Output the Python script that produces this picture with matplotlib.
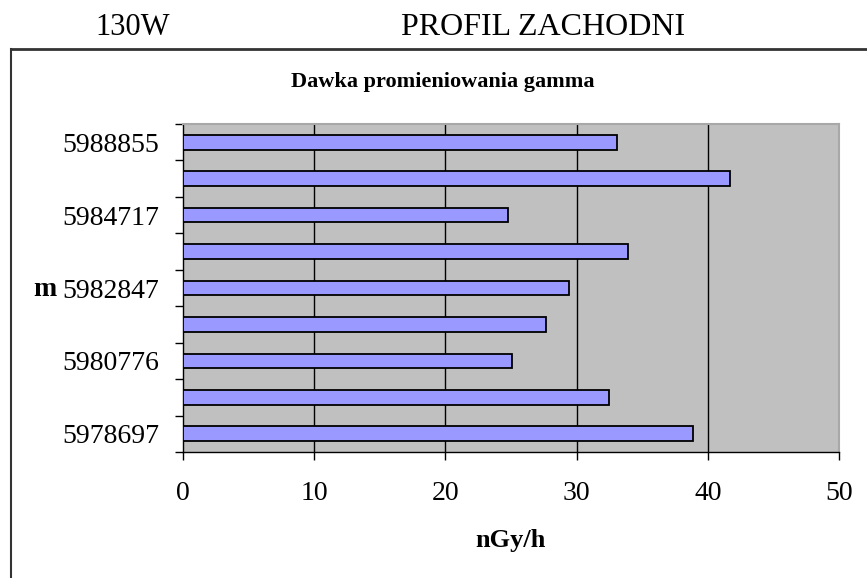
import numpy as np
import matplotlib
matplotlib.use('Agg')
import matplotlib.pyplot as plt
from matplotlib.lines import Line2D

plt.rcParams['font.family'] = ['Liberation Serif', 'DejaVu Serif']

# bottom to top; only every second position carries a label in the original
positions = ['5978697', '', '5980776', '', '5982847', '', '5984717', '', '5988855']
dose = [38.9, 32.5, 25.1, 27.7, 29.4, 33.9, 24.8, 41.7, 33.05]
xticks = [0, 10, 20, 30, 40, 50]

W, H = 867, 578
fig = plt.figure(figsize=(W / 100, H / 100), dpi=100)
ax = fig.add_axes([183 / W, 1 - 452 / H, (839 - 183) / W, (452 - 124) / H])

y = np.arange(len(dose))
ax.set_facecolor('#C0C0C0')
ax.barh(y, dose, height=0.4, color='#9999FF', edgecolor='black', linewidth=1.3, zorder=3)

ax.set_xlim(0, 50)
ax.set_ylim(-0.5, len(dose) - 0.5)
ax.set_xticks(xticks)
ax.set_xticklabels([str(t) for t in xticks], fontsize=20)
for t in xticks[1:-1]:
    ax.axvline(t, color='black', linewidth=1.0, zorder=1)

ax.set_yticks(y)
ax.set_yticklabels(positions, fontsize=20)
ax.set_yticks(np.arange(-0.5, len(dose)), minor=True)
ax.tick_params(axis='y', which='major', length=0, pad=17)
ax.tick_params(axis='y', which='minor', length=6, width=1, direction='out')
ax.tick_params(axis='x', length=6, width=1, direction='out', pad=15)

for s in ['left', 'bottom']:
    ax.spines[s].set_color('black')
    ax.spines[s].set_linewidth(1.0)
for s in ['top', 'right']:
    ax.spines[s].set_color('#A8A8A8')
    ax.spines[s].set_linewidth(1.5)

# chart frame
fig.add_artist(Line2D([11 / W, 11 / W], [0, 1 - 49 / H], color='#333333', linewidth=1.5))
fig.add_artist(Line2D([11 / W, 1], [1 - 49 / H, 1 - 49 / H], color='#333333', linewidth=2))

fig.text(133 / W, 1 - 35 / H, '130W', fontsize=22, ha='center', va='baseline')
fig.text(543 / W, 1 - 35 / H, 'PROFIL ZACHODNI', fontsize=23, ha='center', va='baseline')
fig.text(443 / W, 1 - 82 / H, 'Dawka promieniowania gamma', fontsize=16, fontweight='bold',
         ha='center', va='center')
fig.text(511 / W, 1 - 541 / H, 'nGy/h', fontsize=19, fontweight='bold', ha='center', va='center')
fig.text(45 / W, 1 - 289 / H, 'm', fontsize=20, fontweight='bold', ha='center', va='center')

fig.savefig('out.png', dpi=100)
